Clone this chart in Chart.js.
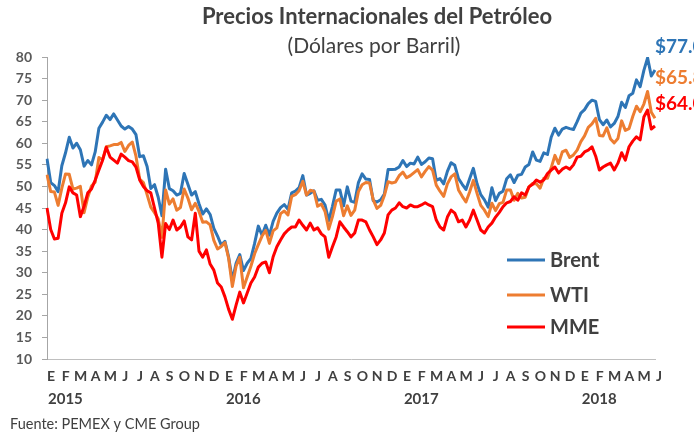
<!DOCTYPE html>
<html lang="es">
<head>
<meta charset="utf-8">
<title>Precios Internacionales del Petróleo</title>
<script src="https://cdn.jsdelivr.net/npm/chart.js@4.4.1/dist/chart.umd.min.js"></script>
<style>
  html, body { margin: 0; padding: 0; background: #fff; }
  #wrap { width: 694px; height: 432px; }
</style>
</head>
<body>
<div id="wrap"><canvas id="grafica" width="694" height="432"></canvas></div>
<script>
// --- datos (4 lecturas por mes, ene-2015 a 1-jun-2018) ---
const anios = ['2015', '2016', '2017', '2018'];
const mesesLetra = ['E', 'F', 'M', 'A', 'M', 'J', 'J', 'A', 'S', 'O', 'N', 'D'];
const diasLectura = ['01', '08', '16', '23'];

const brent = [
  56.4, 50.9, 50.2, 48.8, 54.8, 57.8, 61.4, 58.9, 60.0, 58.5, 54.7, 56.0,
  55.0, 58.0, 63.5, 64.9, 66.5, 65.5, 66.8, 65.4, 64.0, 63.3, 63.9, 63.3,
  62.0, 56.9, 57.1, 54.6, 49.5, 50.4, 47.5, 43.2, 54.0, 49.5, 49.0, 48.0,
  48.4, 53.0, 50.5, 48.0, 48.8, 46.0, 43.6, 44.8, 43.5, 40.3, 38.5, 36.4,
  // 2016
  37.3, 33.6, 28.2, 32.2, 34.2, 30.5, 32.2, 33.3, 36.8, 40.8, 38.7, 41.0,
  38.7, 41.9, 43.8, 45.1, 45.8, 44.7, 48.5, 48.9, 49.7, 52.5, 48.0, 48.4,
  49.0, 46.8, 47.0, 45.7, 42.1, 45.4, 49.2, 49.2, 45.5, 49.9, 46.6, 46.3,
  50.9, 52.9, 51.7, 51.6, 46.7, 46.4, 46.9, 48.2, 53.9, 53.9, 54.0, 54.5,
  // 2017
  56.0, 54.6, 55.4, 55.2, 56.8, 55.1, 55.7, 56.6, 56.4, 51.4, 51.8, 50.6,
  53.5, 55.5, 54.9, 51.8, 50.5, 49.3, 51.8, 54.2, 50.6, 48.1, 46.9, 45.2,
  49.7, 46.7, 48.4, 48.9, 51.8, 52.7, 50.9, 52.6, 52.8, 54.5, 55.1, 58.0,
  56.1, 55.8, 57.8, 57.4, 61.4, 63.5, 61.9, 63.3, 63.7, 63.4, 63.2, 65.0,
  // 2018
  67.0, 67.8, 69.2, 70.0, 69.7, 65.5, 64.3, 65.4, 63.8, 64.6, 66.2, 69.5,
  68.3, 71.0, 71.6, 74.7, 73.1, 76.9, 79.8, 75.6, 77.0
];

const wti = [
  52.7, 48.8, 48.7, 45.6, 49.6, 52.9, 52.8, 49.4, 49.6, 50.0, 43.9, 47.5,
  50.1, 51.0, 56.7, 56.2, 59.2, 59.4, 59.7, 59.7, 60.2, 58.1, 59.5, 60.3,
  57.0, 51.7, 50.9, 48.1, 45.2, 43.9, 42.5, 38.2, 49.2, 45.9, 47.1, 44.5,
  45.1, 49.4, 47.3, 44.6, 46.1, 44.2, 41.7, 41.8, 41.1, 37.5, 35.5, 36.1,
  // 2016
  37.0, 33.3, 26.8, 31.5, 33.6, 26.5, 29.0, 31.5, 34.4, 36.5, 38.5, 39.8,
  36.8, 39.7, 40.4, 43.7, 44.3, 43.4, 47.7, 48.1, 49.0, 51.2, 48.0, 49.1,
  48.9, 45.4, 45.9, 44.2, 40.1, 43.0, 46.6, 47.1, 43.2, 45.5, 43.3, 44.5,
  48.8, 50.4, 50.9, 50.8, 46.9, 44.9, 45.6, 47.9, 51.1, 50.8, 51.0, 52.5,
  // 2017
  53.3, 52.0, 52.5, 53.2, 53.9, 52.2, 53.5, 54.6, 53.8, 50.3, 48.9, 47.7,
  50.6, 52.2, 52.9, 49.2, 47.7, 46.4, 48.7, 51.4, 48.4, 45.6, 44.5, 43.0,
  46.1, 44.4, 46.0, 46.3, 49.2, 49.2, 46.8, 48.4, 47.3, 47.5, 49.9, 50.7,
  50.6, 49.6, 51.9, 51.9, 54.3, 57.2, 55.3, 58.0, 58.4, 56.7, 57.3, 58.4,
  // 2018
  60.4, 61.7, 63.7, 64.5, 65.8, 61.8, 61.7, 63.6, 61.0, 60.1, 61.1, 65.2,
  63.0, 63.4, 66.2, 68.6, 67.3, 69.1, 72.0, 67.2, 65.8
];

const mme = [
  45.0, 40.0, 37.8, 38.0, 43.8, 46.2, 49.9, 48.5, 48.0, 43.0, 45.4, 48.5,
  49.4, 51.5, 53.8, 56.1, 59.1, 56.8, 56.1, 55.4, 57.5, 56.8, 56.0, 55.7,
  54.5, 51.5, 50.0, 49.0, 48.5, 45.0, 41.5, 33.6, 41.4, 40.0, 42.2, 39.9,
  40.6, 42.0, 38.3, 37.6, 43.8, 35.0, 33.6, 35.3, 32.0, 30.6, 27.6, 26.7,
  // 2016
  24.4, 21.5, 19.2, 22.5, 25.5, 23.0, 25.3, 27.6, 29.0, 31.3, 32.2, 32.5,
  30.0, 33.7, 36.0, 37.6, 39.0, 39.9, 40.6, 40.6, 42.2, 41.0, 39.9, 41.5,
  39.9, 40.4, 39.0, 38.3, 33.6, 36.0, 38.3, 41.8, 40.6, 39.5, 38.3, 39.2,
  42.2, 42.2, 41.8, 39.9, 38.3, 36.5, 37.6, 39.2, 43.4, 44.5, 45.0, 46.2,
  // 2017
  45.3, 45.0, 45.7, 45.3, 45.3, 45.7, 46.2, 45.7, 45.3, 42.2, 40.6, 39.9,
  42.9, 44.5, 43.8, 41.8, 42.2, 40.6, 42.2, 44.5, 42.2, 39.9, 39.2, 40.6,
  41.5, 42.9, 44.0, 45.3, 46.2, 46.5, 47.6, 46.8, 48.5, 48.0, 49.9, 50.5,
  51.5, 51.0, 51.5, 53.0, 53.8, 54.5, 53.1, 54.0, 54.5, 54.0, 55.0, 56.8,
  // 2018
  57.0, 58.0, 58.4, 59.2, 57.0, 53.8, 54.5, 55.0, 55.4, 53.8, 55.4, 57.8,
  56.1, 59.2, 60.5, 61.5, 60.8, 66.1, 67.7, 63.3, 64.0
];

// fechas de cada lectura
const fechas = [];
anios.forEach(a => {
  for (let m = 1; m <= 12; m++) {
    if (a === '2018' && m > 5) break;
    diasLectura.forEach(d => fechas.push(a + '-' + String(m).padStart(2, '0') + '-' + d));
  }
});
fechas.push('2018-06-01');

const colores = { brent: '#2E75B6', wti: '#ED7D31', mme: '#FF0000' };
const gris = '#404040';
const fuente = 'Lato, "Open Sans", "DejaVu Sans", sans-serif';

// titulos, leyenda, etiquetas finales y fuente
const textos = {
  id: 'textos',
  afterDraw(chart) {
    const ctx = chart.ctx;
    ctx.save();
    ctx.fillStyle = gris;
    ctx.textAlign = 'center';
    ctx.textBaseline = 'middle';
    ctx.font = 'bold 22px ' + fuente;
    ctx.fillText('Precios Internacionales del Petróleo', 377, 17);
    ctx.font = '21px ' + fuente;
    ctx.fillText('(Dólares por Barril)', 374, 46);

    // leyenda
    const yLeyenda = [260, 295, 327];
    chart.data.datasets.forEach((ds, i) => {
      ctx.strokeStyle = ds.borderColor;
      ctx.lineWidth = 3;
      ctx.beginPath();
      ctx.moveTo(507, yLeyenda[i]);
      ctx.lineTo(545, yLeyenda[i]);
      ctx.stroke();
      ctx.fillStyle = gris;
      ctx.textAlign = 'left';
      ctx.font = 'bold 20px ' + fuente;
      ctx.fillText(ds.label, 550, yLeyenda[i] + 1);
    });

    // ultimo valor de cada serie
    const yFinal = [47, 78, 104];
    chart.data.datasets.forEach((ds, i) => {
      const ultimo = ds.data[ds.data.length - 1];
      ctx.fillStyle = ds.borderColor;
      ctx.font = 'bold 19px ' + fuente;
      ctx.textAlign = 'left';
      ctx.fillText('$' + ultimo.toFixed(1), 655, yFinal[i]);
    });

    ctx.fillStyle = gris;
    ctx.font = '14.5px ' + fuente;
    ctx.textAlign = 'left';
    ctx.fillText('Fuente: PEMEX y CME Group', 10, 424);
    ctx.restore();
  }
};

new Chart('grafica', {
  type: 'line',
  data: {
    labels: fechas,
    datasets: [
      { label: 'Brent', data: brent, borderColor: colores.brent, order: 3 },
      { label: 'WTI', data: wti, borderColor: colores.wti, order: 2 },
      { label: 'MME', data: mme, borderColor: colores.mme, order: 1 }
    ]
  },
  options: {
    responsive: false,
    animation: false,
    devicePixelRatio: 1,
    layout: { padding: { top: 57, right: 39, bottom: 27, left: 0 } },
    elements: {
      line: { borderWidth: 3, tension: 0, borderJoinStyle: 'round', fill: false },
      point: { radius: 0 }
    },
    plugins: {
      legend: { display: false },
      tooltip: { enabled: false }
    },
    scales: {
      x: {
        type: 'category',
        offset: false,
        grid: { display: false, drawTicks: false },
        border: { display: true, color: '#BFBFBF', width: 1 },
        ticks: {
          autoSkip: false, maxRotation: 0, minRotation: 0, padding: 9, labelOffset: 4,
          color: gris, font: { family: fuente, size: 14, weight: 'bold' },
          callback: (v, i) => fechas[i].endsWith('-01') ? mesesLetra[+fechas[i].slice(5, 7) - 1] : ''
        },
        afterFit: s => { s.height = 22; }
      },
      x2: {
        type: 'category',
        labels: fechas,
        position: 'bottom',
        weight: 1,
        offset: false,
        grid: { display: false, drawTicks: false },
        border: { display: false },
        ticks: {
          autoSkip: false, maxRotation: 0, minRotation: 0, padding: 9, align: 'start', labelOffset: 1,
          color: gris, font: { family: fuente, size: 15, weight: 'bold' },
          callback: (v, i) => fechas[i].endsWith('-01-01') ? fechas[i].slice(0, 4) : ''
        },
        afterFit: s => { s.height = 24; }
      },
      y: {
        min: 10,
        max: 80,
        grid: { drawOnChartArea: false, drawTicks: true, tickLength: 5, color: '#A6A6A6' },
        border: { display: true, color: '#A6A6A6', width: 1 },
        ticks: {
          stepSize: 5, padding: 10, color: '#595959',
          font: { family: fuente, size: 14, weight: 'bold' }
        },
        afterFit: s => { s.width = 47; }
      }
    }
  },
  plugins: [textos]
});
</script>
</body>
</html>
